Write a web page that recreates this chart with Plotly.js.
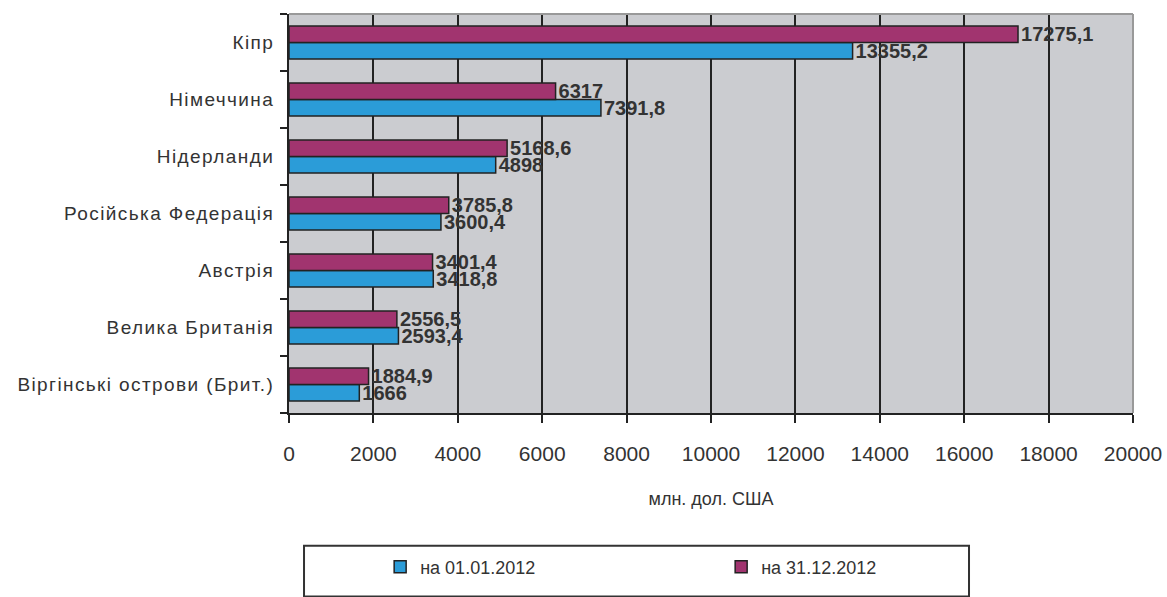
<!DOCTYPE html>
<html><head><meta charset="utf-8">
<script src="https://cdn.plot.ly/plotly-3.0.1.min.js"></script>
<style>html,body{margin:0;padding:0;background:#fff}#chart{width:1167px;height:597px}
#chart .ytick text{letter-spacing:1.4px}</style>
</head><body><div id="chart"></div>
<script>
const categories = ["Віргінські острови (Брит.)","Велика Британія","Австрія","Російська Федерація","Нідерланди","Німеччина","Кіпр"];
const values2012start = [1666, 2593.4, 3418.8, 3600.4, 4898, 7391.8, 13355.2];
const values2012end = [1884.9, 2556.5, 3401.4, 3785.8, 5168.6, 6317, 17275.1];
const seriesNames = ["на 01.01.2012", "на 31.12.2012"];
const xTicks = [0,2000,4000,6000,8000,10000,12000,14000,16000,18000,20000];

const fmt = v => String(v).replace('.', ',');
const FONT = '"Liberation Sans", Arial, sans-serif';

const common = {
  type: 'bar', orientation: 'h', y: categories,
  textposition: 'outside', cliponaxis: false, constraintext: 'none',
  textfont: {family: FONT, size: 20, color: '#333', weight: 'bold'},
  hoverinfo: 'x+y'
};
const data = [
  Object.assign({}, common, {name: seriesNames[0], x: values2012start, text: values2012start.map(fmt),
    marker: {color: '#2b9cd8', line: {color: '#222', width: 1.5}}}),
  Object.assign({}, common, {name: seriesNames[1], x: values2012end, text: values2012end.map(fmt),
    marker: {color: '#a1346f', line: {color: '#222', width: 1.5}}})
];
const layout = {
  width: 1167, height: 597,
  margin: {l: 289, r: 34, t: 14, b: 177},
  paper_bgcolor: '#fff', plot_bgcolor: '#cbccd0',
  font: {family: FONT, size: 18, color: '#333'},
  barmode: 'group', bargap: 0.42, bargroupgap: 0,
  xaxis: {range: [0, 20000], tickvals: xTicks, ticktext: xTicks.map(String),
    showgrid: true, gridcolor: '#222', gridwidth: 2, zeroline: false,
    showline: true, linecolor: '#222', linewidth: 2, ticks: 'outside', ticklen: 8, tickwidth: 2, tickcolor: '#222',
    title: {text: 'млн. дол. США', font: {size: 18, color: '#333'}, standoff: 28},
    tickfont: {size: 21, color: '#333'}, ticklabelstandoff: 13, fixedrange: true},
  yaxis: {type: 'category', showline: true, linecolor: '#222', linewidth: 2,
    ticks: 'outside', ticklen: 7, tickwidth: 2, tickcolor: '#222', tickson: 'boundaries',
    showgrid: false, tickfont: {size: 19, color: '#333'}, ticklabelstandoff: 9},
  showlegend: true,
  legend: {orientation: 'h', x: 0.108, xanchor: 'left', y: -0.34, yanchor: 'top',
    borderwidth: 0, bgcolor: 'rgba(0,0,0,0)', entrywidth: 296, entrywidthmode: 'pixels',
    font: {size: 18, color: '#333'}, traceorder: 'normal'},
  shapes: [
    {type: 'line', xref: 'paper', yref: 'paper', x0: 0, x1: 1, y0: 1, y1: 1, line: {color: '#999', width: 2}},
    {type: 'line', xref: 'paper', yref: 'paper', x0: 1, x1: 1, y0: 0, y1: 1, line: {color: '#999', width: 2}},
    {type: 'rect', xref: 'paper', yref: 'paper', x0: 0.0178, x1: 0.8057, y0: -0.3325, y1: -0.46,
      line: {color: '#333', width: 2}, fillcolor: 'rgba(0,0,0,0)'}
  ]
};
Plotly.newPlot('chart', data, layout, {displayModeBar: false, staticPlot: true});
</script></body></html>
